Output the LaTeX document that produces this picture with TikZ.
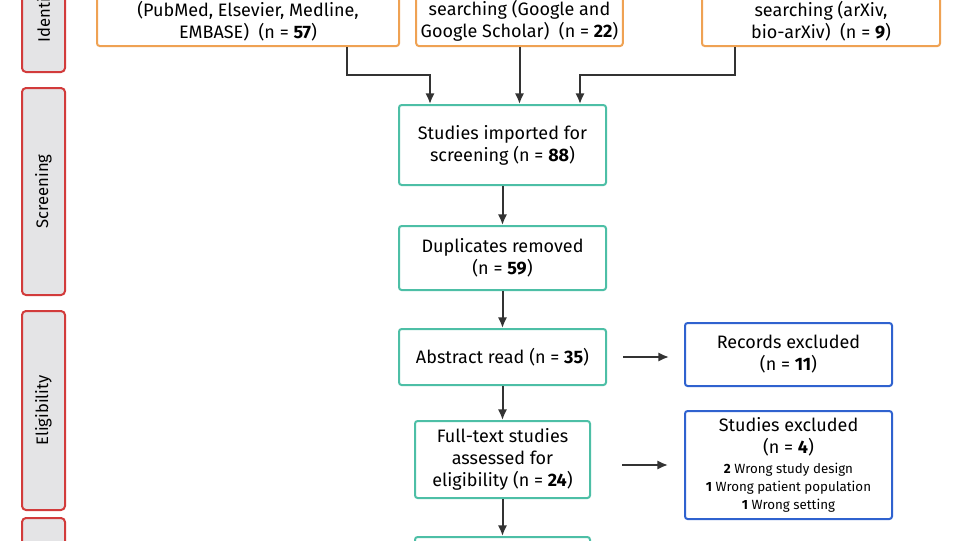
\documentclass[tikz,border=0pt]{standalone}
\usepackage{fontspec}
\setmainfont{Fira Sans}
\usetikzlibrary{arrows.meta}
\definecolor{orangeb}{HTML}{EFA253}
\definecolor{tealb}{HTML}{4DBFA6}
\definecolor{blueb}{HTML}{2F62CF}
\definecolor{redb}{HTML}{D23B3B}
\definecolor{grayf}{HTML}{E4E4E6}
\definecolor{arr}{HTML}{333333}
\begin{document}
\begin{tikzpicture}[x=0.75pt,y=-0.75pt,>={Latex[length=8pt,width=7pt]},
  box/.style={draw, line width=1.5pt, rounded corners=2pt, align=center, font=\fontsize{13.5}{16.5}\selectfont},
  obox/.style={box, draw=orangeb},
  tbox/.style={box, draw=tealb},
  bbox/.style={box, draw=blueb},
  side/.style={draw=redb, fill=grayf, line width=1.5pt, rounded corners=3pt, minimum height=43*0.75pt, rotate=90, font=\fontsize{12.5}{14}\selectfont},
  link/.style={->, draw=arr, line width=1.5pt}]
	\useasboundingbox (0,0) rectangle (960,540);
	\clip (0,0) rectangle (960,540);
	% stage labels
	\node [side, minimum width=160*0.75pt] (ident) at (43.5,-8) {Identification};
	\node [side, minimum width=207*0.75pt] (screen) at (43.5,191.5) {Screening};
	\node [side, minimum width=199*0.75pt] (elig) at (43.5,410.5) {Eligibility};
	\node [side, minimum width=160*0.75pt] (incl) at (43.5,598) {Included};
	% identification
	\node [obox, minimum width=302*0.75pt, anchor=south] (db) at (248,47) {(PubMed, Elsevier, Medline,\\EMBASE)\ \ (n = \textbf{57})};
	\node [obox, minimum width=177*0.75pt, anchor=south] (web) at (519.5,47) {searching (Google and\\Google Scholar)\ \ (n = \textbf{22})};
	\node [obox, minimum width=238*0.75pt, anchor=south] (pre) at (821,47) {searching (arXiv,\\bio-arXiv)\ \ (n = \textbf{9})};
	% screening and eligibility
	\node [tbox, minimum width=207*0.75pt, minimum height=80*0.75pt] (imp) at (502.5,145) {Studies imported for\\screening (n = \textbf{88})};
	\node [tbox, minimum width=207*0.75pt, minimum height=64*0.75pt] (dup) at (502.5,258) {Duplicates removed\\(n = \textbf{59})};
	\node [tbox, minimum width=207*0.75pt, minimum height=56*0.75pt] (abs) at (502.5,357) {Abstract read (n = \textbf{35})};
	\node [tbox, minimum width=175*0.75pt, minimum height=77*0.75pt] (full) at (502.5,459.5) {Full-text studies\\assessed for\\eligibility (n = \textbf{24})};
	\node [tbox, minimum width=175*0.75pt, minimum height=60*0.75pt, anchor=north] (final) at (502.5,536) {};
	\node [bbox, minimum width=207*0.75pt, minimum height=63*0.75pt] (exc1) at (788.5,354.5) {Records excluded\\(n = \textbf{11})};
	\node [bbox, minimum width=207*0.75pt, minimum height=108*0.75pt] (exc2) at (788.5,465) {Studies excluded\\(n = \textbf{4})\\[-2pt]
		{\fontsize{10}{12.5}\selectfont \textbf{2} Wrong study design}\\[-3pt]
		{\fontsize{10}{12.5}\selectfont \textbf{1} Wrong patient population}\\[-3pt]
		{\fontsize{10}{12.5}\selectfont \textbf{1} Wrong setting}};
	% arrows
	\draw [link] (db.south -| 347,0) |- (430,75) -- (imp.north -| 430,0);
	\draw [link] (web.south) -- (imp.north -| web.south);
	\draw [link] (pre.south -| 735,0) |- (580,75) -- (imp.north -| 580,0);
	\draw [link] (imp) -- (dup);
	\draw [link] (dup) -- (abs);
	\draw [link] (abs) -- (full);
	\draw [link] (full) -- (final);
	\draw [link] (abs.east) ++(16,0) -- +(46,0);
	\draw [link] (622,465) -- (exc2.west -| 668,0);
\end{tikzpicture}
\end{document}
